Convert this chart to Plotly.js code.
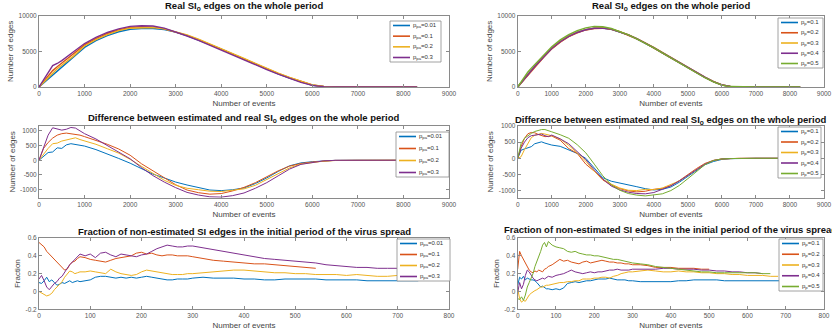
<!DOCTYPE html>
<html><head><meta charset="utf-8">
<script src="https://cdn.plot.ly/plotly-3.0.1.min.js"></script>
<style>html,body{margin:0;padding:0;background:#fff}#chart{width:832px;height:336px}</style>
</head><body><div id="chart"></div>
<script>
// ---------------- DATA ----------------
const eventsWhole = [0,100,200,300,400,500,750,1000,1250,1500,1750,2000,2250,2500,2750,3000,3250,3500,3750,4000,4250,4500,4750,5000,5250,5500,5750,6000,6250,6500,7000,7500,8000,8300];
const realPa001 = [0,550,1100,1650,2200,2750,4200,5550,6500,7200,7750,8100,8200,8200,8050,7700,7200,6600,5950,5300,4600,3900,3200,2500,1850,1250,700,250,60,10,0,0,0,0];
const realPa01  = [0,800,1600,2300,2850,3350,4650,5900,6800,7500,8000,8350,8450,8400,8150,7750,7250,6650,6000,5350,4650,3950,3250,2550,1900,1300,750,280,70,10,0,0,0,0];
const realPa02  = [0,650,1300,2000,2550,3050,4300,5750,6650,7350,7900,8250,8350,8350,8150,7750,7300,6700,6050,5400,4700,4000,3300,2600,1950,1350,780,300,70,10,0,0,0,0];
const realPa03  = [0,1000,2000,3000,3300,3700,4900,6100,6950,7650,8150,8500,8600,8550,8250,7750,7150,6550,5850,5200,4500,3800,3100,2450,1800,1200,650,230,50,5,0,0,0,0];
const realP01 = [0,600,1200,1800,2350,2900,4200,5450,6400,7150,7700,8050,8250,8250,8100,7750,7300,6750,6150,5500,4800,4100,3400,2700,2000,1350,750,280,70,10,0,0,0,0];
const realP02 = [0,550,1150,1750,2300,2850,4100,5350,6300,7050,7600,8000,8200,8250,8100,7750,7300,6750,6150,5500,4800,4100,3400,2700,2000,1350,750,280,70,10,0,0,0,0];
const realP03 = [0,600,1200,1800,2350,2900,4200,5450,6400,7150,7700,8050,8250,8300,8150,7800,7350,6800,6200,5550,4850,4150,3450,2750,2050,1400,780,300,70,10,0,0,0,0];
const realP04 = [0,580,1180,1780,2320,2870,4150,5400,6350,7100,7650,8030,8230,8250,8120,7770,7320,6770,6170,5520,4820,4120,3420,2720,2020,1370,760,290,70,10,0,0,0,0];
const realP05 = [0,750,1450,2100,2650,3150,4400,5650,6600,7350,7900,8300,8500,8450,8200,7800,7300,6750,6150,5500,4800,4100,3350,2650,1950,1300,720,260,60,10,0,0,0,0];

const eventsDiff = [0,100,200,300,400,500,600,700,800,900,1000,1250,1500,1750,2000,2250,2500,2750,3000,3250,3500,3750,4000,4250,4500,4750,5000,5250,5500,5750,6000,6250,6500,7000,7500,8000,8300];
const diffPa001 = [0,130,260,280,420,400,520,560,540,520,480,360,220,60,-100,-290,-470,-600,-740,-840,-930,-1010,-1030,-1000,-940,-790,-600,-380,-190,-90,-50,-20,-5,0,0,0,0];
const diffPa01  = [0,400,600,750,850,900,920,900,880,850,800,680,540,380,170,-120,-360,-600,-830,-1010,-1100,-1150,-1130,-1040,-920,-760,-560,-360,-200,-110,-60,-25,-5,0,0,0,0];
const diffPa02  = [0,220,400,560,580,650,690,740,760,700,660,540,390,240,30,-200,-450,-680,-850,-950,-1000,-1050,-1060,-1020,-970,-850,-660,-460,-260,-130,-70,-30,-10,0,0,0,0];
const diffPa03  = [0,400,850,1100,1060,1020,1050,1110,1090,1000,900,720,500,290,50,-250,-520,-740,-930,-1090,-1180,-1240,-1250,-1200,-1110,-950,-760,-530,-300,-140,-70,-20,-5,0,0,0,0];
const diffP01 = [0,250,290,330,360,450,480,510,470,430,410,370,260,150,0,-300,-600,-710,-760,-830,-880,-940,-980,-960,-890,-740,-560,-370,-200,-100,-35,-12,-3,0,0,0,0];
const diffP02 = [0,360,620,760,800,790,740,700,670,680,690,560,300,150,-180,-400,-670,-830,-940,-1010,-1040,-1020,-960,-930,-850,-690,-500,-320,-160,-65,-20,-5,0,0,0,0,0];
const diffP03 = [0,50,270,480,640,710,740,770,750,730,700,600,400,170,-90,-400,-650,-800,-920,-990,-1000,-960,-970,-920,-820,-700,-530,-350,-180,-70,-20,-8,0,0,0,0,0];
const diffP04 = [0,310,500,640,700,720,740,750,700,670,720,600,450,220,-40,-360,-640,-860,-980,-1050,-1090,-1100,-1060,-960,-850,-700,-530,-350,-180,-70,-20,-8,0,0,0,0,0];
const diffP05 = [0,460,620,700,770,830,870,890,890,860,820,730,620,420,170,-180,-540,-820,-990,-1090,-1140,-1165,-1140,-1100,-1000,-840,-630,-400,-200,-70,-20,-8,0,0,0,0,0];

const eventsInit = [0,5,10,15,20,25,30,35,40,45,50,55,60,65,70,75,80,90,100,110,120,130,140,150,160,170,180,190,200,210,220,230,240,250,260,270,280,290,300,320,340,360,380,400,420,440,460,480,500,520,540,560,580,600,620,640,660,680,700,720,740];
const fracPa001 = [0.10,0.09,0.12,0.16,0.11,0.13,0.10,0.07,0.08,0.10,0.09,0.11,0.12,0.10,0.11,0.12,0.11,
  0.12,0.13,0.16,0.17,0.17,0.16,0.15,0.16,0.15,0.16,0.15,0.16,0.17,0.16,0.15,0.14,0.13,0.13,0.14,0.14,0.14,0.15,
  0.16,0.15,0.15,0.15,0.14,0.14,0.13,0.13,0.14,0.14,0.14,0.14,0.13,0.13,0.13,0.13,0.12,0.12,0.12,0.12,0.12,0.12];
const fracPa01 = [0.55,0.53,0.50,0.45,0.42,0.39,0.36,0.32,0.29,0.26,0.24,0.25,0.30,0.33,0.34,0.37,0.39,
  0.38,0.36,0.35,0.34,0.33,0.35,0.37,0.38,0.39,0.40,0.43,0.44,0.42,0.43,0.41,0.40,0.41,0.41,0.40,0.40,0.40,0.39,
  0.37,0.35,0.34,0.33,0.32,0.31,0.31,0.30,0.29,0.28,0.27,0.26];
const fracPa02 = [0.00,-0.02,-0.04,-0.05,-0.04,-0.02,0.02,0.05,0.08,0.11,0.16,0.20,0.23,0.22,0.20,0.21,0.22,
  0.22,0.23,0.22,0.21,0.20,0.25,0.22,0.20,0.19,0.18,0.19,0.22,0.24,0.23,0.22,0.21,0.20,0.19,0.19,0.19,0.20,0.20,
  0.21,0.22,0.23,0.24,0.24,0.23,0.22,0.21,0.21,0.20,0.20,0.19,0.19,0.19,0.18,0.19,0.18,0.17,0.17,0.18,0.18,0.18];
const fracPa03 = [0.14,0.18,0.12,0.05,0.02,0.06,0.09,0.11,0.15,0.17,0.22,0.26,0.30,0.33,0.36,0.38,0.42,
  0.40,0.42,0.38,0.43,0.44,0.41,0.39,0.42,0.41,0.40,0.39,0.41,0.42,0.45,0.48,0.50,0.52,0.51,0.50,0.50,0.51,0.51,
  0.49,0.47,0.45,0.43,0.41,0.39,0.37,0.36,0.35,0.34,0.33,0.32,0.30,0.29,0.28,0.27,0.27,0.26,0.26,0.26,0.25];
const fracP01 = [0.07,0.16,0.14,0.17,0.13,0.15,0.14,0.13,0.13,0.12,0.10,0.07,0.05,0.06,0.04,0.03,0.03,
  0.02,0.03,0.02,0.04,0.09,0.10,0.11,0.10,0.11,0.12,0.12,0.13,0.14,0.14,0.14,0.15,0.14,0.13,0.13,0.13,0.12,0.12,
  0.11,0.11,0.11,0.11,0.11,0.12,0.12,0.13,0.13,0.13,0.13,0.12,0.12,0.12,0.12,0.12,0.12,0.12,0.12,0.12];
const fracP02 = [0.25,0.45,0.40,0.36,0.32,0.27,0.24,0.22,0.21,0.23,0.22,0.24,0.23,0.22,0.25,0.26,0.28,
  0.30,0.33,0.36,0.34,0.35,0.33,0.32,0.31,0.33,0.34,0.32,0.33,0.34,0.35,0.34,0.33,0.33,0.32,0.32,0.31,0.31,0.30,
  0.30,0.29,0.27,0.27,0.27,0.26,0.26,0.26,0.25,0.25];
const fracP03 = [0.03,-0.08,-0.12,-0.10,-0.11,-0.07,-0.04,-0.02,0.00,0.01,0.02,0.04,0.05,0.05,0.06,0.07,0.07,
  0.08,0.09,0.10,0.10,0.11,0.11,0.12,0.12,0.14,0.14,0.14,0.15,0.15,0.16,0.16,0.15,0.17,0.18,0.20,0.21,0.22,0.22,
  0.23,0.24,0.23,0.22,0.22,0.23,0.22,0.22,0.21,0.21,0.20,0.20,0.19,0.19,0.18,0.18,0.18,0.17,0.17];
const fracP04 = [-0.01,0.10,0.03,0.08,0.18,0.24,0.22,0.18,0.15,0.13,0.12,0.13,0.14,0.15,0.14,0.16,0.17,
  0.16,0.18,0.19,0.20,0.22,0.24,0.22,0.21,0.20,0.21,0.22,0.21,0.22,0.22,0.23,0.24,0.24,0.25,0.24,0.24,0.24,0.25,
  0.25,0.25,0.25,0.26,0.26,0.25,0.25,0.25,0.24,0.24,0.23,0.23,0.22,0.22,0.21,0.21,0.20];
const fracP05 = [-0.08,-0.09,-0.06,-0.10,-0.04,0.05,0.10,0.15,0.20,0.28,0.33,0.40,0.45,0.52,0.55,0.50,0.56,
  0.52,0.50,0.49,0.48,0.45,0.44,0.45,0.43,0.42,0.41,0.41,0.40,0.40,0.39,0.38,0.37,0.36,0.36,0.35,0.34,0.33,0.32,
  0.31,0.30,0.28,0.27,0.26,0.25,0.24,0.23,0.22,0.22,0.21,0.21,0.21,0.21,0.21,0.21,0.20,0.20];

const labelsPa = ['p<sub>pa</sub>=0.01','p<sub>pa</sub>=0.1','p<sub>pa</sub>=0.2','p<sub>pa</sub>=0.3'];
const labelsP  = ['p<sub>p</sub>=0.1','p<sub>p</sub>=0.2','p<sub>p</sub>=0.3','p<sub>p</sub>=0.4','p<sub>p</sub>=0.5'];
const titles = ['Real SI<sub>o</sub> edges on the whole period',
  'Difference between estimated and real SI<sub>o</sub> edges on the whole period',
  'Fraction of non-estimated SI edges in the initial period of the virus spread'];
const xTitle = 'Number of events';
const yTitles = ['Number of edges','Number of edges','Fraction'];
const realTickVals = [0,5000,10000];
const realTickText = ['0','5000','10000'];
const diffTickVals = [-1000,-500,0,500,1000];
const diffTickText = ['-1000','-500','0','500','1000'];
const fracTickVals = [-0.2,0,0.2,0.4,0.6];
const fracTickText = ['-0.2','0','0.2','0.4','0.6'];

// ---------------- STYLE ----------------
const colors = ['#0072BD','#D95319','#EDB120','#7E2F8E','#77AC30'];
const W = 832, H = 336;
const px = x => x / W, py = y => 1 - y / H;
const colPx = [[39, 449], [517.7, 824]];
const rowPx = [[15.7, 87], [126, 197.7], [238, 309.3]];
const titleY = [[5.5, 5.5], [117.5, 120], [231, 229]];
const legendBox = [[[390,441,21,62],[778,823,18,68]],[[396,449,132,177],[778,821,127,178]],[[397,450,239,281],[779,823,239,291]]];
const FONT = 'Liberation Sans, Arial, sans-serif';

const panels = [
  [[eventsWhole,[realPa001,realPa01,realPa02,realPa03]],[eventsWhole,[realP01,realP02,realP03,realP04,realP05]]],
  [[eventsDiff,[diffPa001,diffPa01,diffPa02,diffPa03]],[eventsDiff,[diffP01,diffP02,diffP03,diffP04,diffP05]]],
  [[eventsInit,[fracPa001,fracPa01,fracPa02,fracPa03]],[eventsInit,[fracP01,fracP02,fracP03,fracP04,fracP05]]]
];
const lineW = [1.4, 1, 1];

const traces = [], shapes = [], annotations = [];
const layout = {width: W, height: H, margin: {l:0,r:0,t:0,b:0}, paper_bgcolor:'#fff', plot_bgcolor:'#fff',
  showlegend:false, font:{family:FONT, color:'#333'}};

function axisBase() {
  return {showline:true, mirror:'ticks', linecolor:'#8a8a8a', linewidth:1, ticks:'inside', ticklen:3,
    tickcolor:'#8a8a8a', showgrid:false, zeroline:false, tickfont:{size:6.5, color:'#555', family:FONT}};
}

let k = 0;
for (let r = 0; r < 3; r++) {
  for (let c = 0; c < 2; c++) {
    k++;
    const xa = 'xaxis' + (k === 1 ? '' : k), ya = 'yaxis' + (k === 1 ? '' : k);
    const xr = 'x' + (k === 1 ? '' : k), yr = 'y' + (k === 1 ? '' : k);
    const [xs, series] = panels[r][c];
    const labels = c === 0 ? labelsPa : labelsP;
    series.forEach((ys, i) => {
      traces.push({type:'scatter', mode:'lines', x: xs.slice(0, ys.length), y: ys, name: labels[i],
        xaxis: xr, yaxis: yr, line:{color: colors[i], width: lineW[r]}, hoverinfo:'skip'});
    });
    const X = axisBase();
    X.domain = [px(colPx[c][0]), px(colPx[c][1])];
    X.anchor = yr;
    X.title = {text: xTitle, font:{size:8, color:'#444', family:FONT}, standoff: 4};
    if (r < 2) { X.range = [0, 9000]; X.dtick = 1000; X.tick0 = 0; }
    else { X.range = [0, 800]; X.dtick = 100; X.tick0 = 0; }
    X.tickformat = 'd';
    const Y = axisBase();
    Y.domain = [py(rowPx[r][1]), py(rowPx[r][0])];
    Y.anchor = xr;
    Y.title = {text: yTitles[r], font:{size:8, color:'#444', family:FONT}, standoff: 3};
    if (r === 0) { Y.range = [0, 10000]; Y.tickvals = realTickVals; Y.ticktext = realTickText; }
    else if (r === 1) { Y.range = c === 0 ? [-1270, 1160] : [-1220, 1000]; Y.tickvals = diffTickVals; Y.ticktext = diffTickText; }
    else { Y.range = [-0.2, 0.6]; Y.tickvals = fracTickVals; Y.ticktext = fracTickText; }
    layout[xa] = X; layout[ya] = Y;

    // subplot title
    annotations.push({xref:'paper', yref:'paper', x: px((colPx[c][0]+colPx[c][1])/2), y: py(titleY[r][c]),
      xanchor:'center', yanchor:'middle', showarrow:false, text: titles[r],
      font:{size:9.5, color:'#111', family:FONT, weight:'bold'}});

    // legend box
    const [lx0, lx1, ly0, ly1] = legendBox[r][c];
    shapes.push({type:'rect', xref:'paper', yref:'paper', x0:px(lx0), x1:px(lx1), y0:py(ly1), y1:py(ly0),
      line:{color:'#8a8a8a', width:0.8}, fillcolor:'#fff', layer:'above'});
    const n = series.length;
    const step = (ly1 - ly0 - 9) / (n - 1);
    for (let i = 0; i < n; i++) {
      const yy = ly0 + 4.5 + i * step;
      shapes.push({type:'line', xref:'paper', yref:'paper', x0:px(lx0+3), x1:px(lx0+20), y0:py(yy), y1:py(yy),
        line:{color: colors[i], width: 1.6}, layer:'above'});
      annotations.push({xref:'paper', yref:'paper', x:px(lx0+21), y:py(yy), xanchor:'left', yanchor:'middle',
        showarrow:false, text: labels[i], font:{size:6, color:'#333', family:FONT}});
    }
  }
}
layout.shapes = shapes;
layout.annotations = annotations;
Plotly.newPlot('chart', traces, layout, {staticPlot:true, displayModeBar:false});
</script></body></html>
